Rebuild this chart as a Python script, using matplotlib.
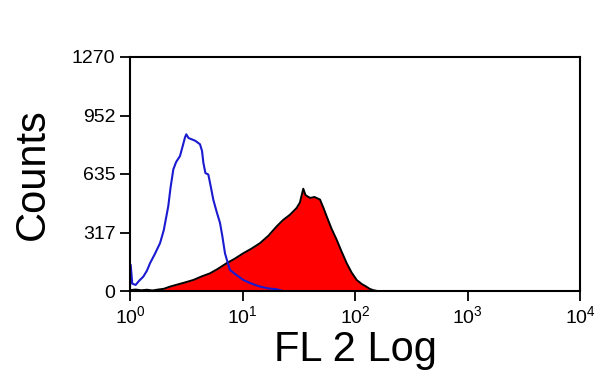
#flow_histogram.py

import numpy as np
import matplotlib.pyplot as plt
from matplotlib.ticker import FixedLocator, NullLocator

plt.rcParams['font.family'] = ['Liberation Sans', 'DejaVu Sans']
plt.rcParams['mathtext.default'] = 'regular'

# control histogram (blue outline): log10 of channel, counts
blue_log = [0.0, 0.006, 0.02, 0.05, 0.08, 0.118, 0.15, 0.178, 0.22, 0.267, 0.30,
            0.34, 0.36, 0.385, 0.41, 0.444, 0.47, 0.489, 0.50, 0.52, 0.548, 0.58,
            0.622, 0.64, 0.652, 0.67, 0.696, 0.72, 0.74, 0.77, 0.8, 0.82, 0.844,
            0.87, 0.889, 0.95, 1.007, 1.08, 1.156, 1.23, 1.30, 1.36]
blue_cnt = [20, 142, 40, 33, 55, 78, 110, 151, 200, 260, 330,
            460, 560, 660, 700, 732, 790, 834, 850, 830, 823, 815,
            796, 760, 696, 640, 632, 560, 496, 430, 369, 300, 205,
            150, 114, 85, 60, 40, 24, 14, 10, 0]

# stained sample (red filled)
red_log = [0.0, 0.05, 0.1, 0.15, 0.2, 0.25, 0.3, 0.356, 0.42, 0.48, 0.563, 0.64,
           0.711, 0.78, 0.859, 0.93, 1.007, 1.08, 1.156, 1.23, 1.304, 1.36, 1.422,
           1.48, 1.51, 1.54, 1.56, 1.6, 1.64, 1.689, 1.72, 1.748, 1.79, 1.837,
           1.88, 1.926, 1.97, 2.015, 2.06, 2.1, 2.13, 2.16, 2.2]
red_cnt = [5, 8, 4, 7, 3, 8, 12, 24, 35, 45, 60, 80,
           96, 120, 151, 175, 205, 230, 260, 300, 351, 385, 414,
           450, 480, 555, 520, 505, 510, 496, 450, 405, 340, 278,
           215, 151, 100, 60, 38, 24, 12, 5, 0]

yticks = [0, 317, 635, 952, 1270]

fig = plt.figure(figsize=(6, 3.87), dpi=100)
ax = fig.add_axes([0.2167, 0.248, 0.75, 0.605])

rx = 10 ** np.array(red_log)
ax.fill_between(rx, red_cnt, 0, color='#ff0000', lw=0)
ax.plot(rx, red_cnt, color='black', lw=1.4)
ax.plot(10 ** np.array(blue_log), blue_cnt, color='#1a1ad0', lw=1.5)

ax.set_xscale('log')
ax.set_xlim(1, 1e4)
ax.set_ylim(0, 1270)
ax.xaxis.set_minor_locator(NullLocator())
ax.yaxis.set_major_locator(FixedLocator(yticks))
ax.set_yticklabels([str(t) for t in yticks])
ax.tick_params(labelsize=14, length=7, width=1.3, direction='out', colors='black')
for s in ax.spines.values():
    s.set_linewidth(1.5)

ax.set_ylabel('Counts', fontsize=30, labelpad=14)
ax.set_xlabel('FL 2 Log', fontsize=30, labelpad=2)

fig.savefig('out.png', dpi=100)
